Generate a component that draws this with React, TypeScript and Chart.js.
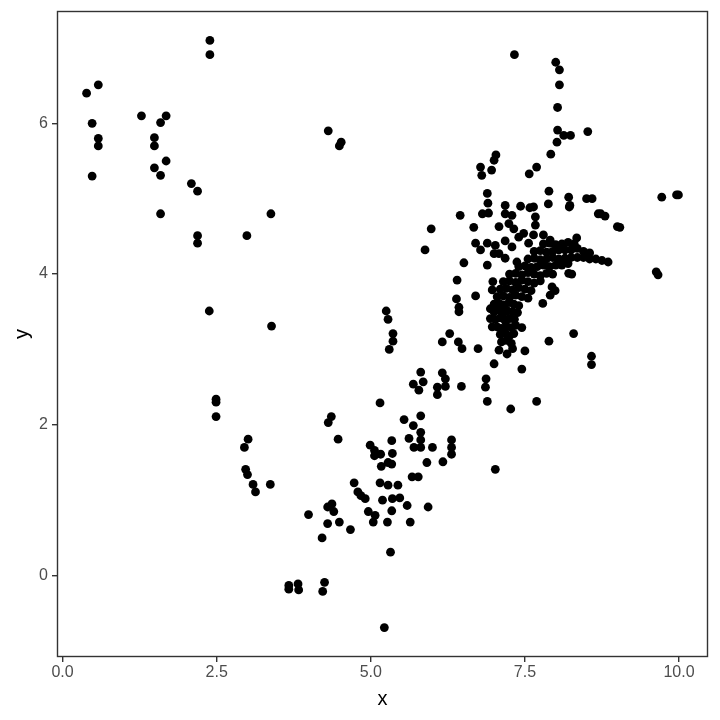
import { useEffect, useRef } from "react";
import { Chart, registerables } from "chart.js";

Chart.register(...registerables);

const xTickValues = [0, 2.5, 5, 7.5, 10];
const yTickValues = [0, 2, 4, 6];
const xTitle = "x";
const yTitle = "y";

const groupUpperLeft: [number, number][] = [
  [0.39, 6.4], [0.58, 6.51], [0.48, 6.0], [0.58, 5.8], [0.58, 5.7], [0.48, 5.3],
  [1.28, 6.1], [1.68, 6.1], [1.59, 6.01], [1.49, 5.81], [1.49, 5.7], [1.68, 5.5],
  [1.49, 5.41], [1.59, 5.31], [2.09, 5.2], [2.19, 5.1], [1.59, 4.8], [3.38, 4.8],
  [2.19, 4.51], [2.99, 4.51], [2.19, 4.41], [2.39, 7.1], [2.39, 6.91],
  [4.31, 5.9], [4.49, 5.7], [4.52, 5.75],
];

const groupMidLeft: [number, number][] = [
  [2.38, 3.51], [3.39, 3.31], [2.49, 2.34], [2.49, 2.3], [2.49, 2.11], [3.01, 1.81],
  [2.95, 1.7], [2.97, 1.41], [3.0, 1.34], [3.09, 1.21], [3.13, 1.11], [3.37, 1.21],
];

const groupLower: [number, number][] = [
  [5.25, 3.51], [5.28, 3.4], [5.36, 3.21], [5.36, 3.11], [5.3, 3.0],
  [4.36, 2.11], [4.31, 2.03], [4.47, 1.81], [5.15, 2.29],
  [5.69, 2.54], [5.85, 2.57], [5.78, 2.46], [6.08, 2.5], [6.21, 2.51], [6.08, 2.4], [6.47, 2.51],
  [5.54, 2.07], [5.81, 2.12], [5.69, 1.99], [5.81, 1.9], [5.62, 1.82], [5.81, 1.8],
  [5.7, 1.7], [5.81, 1.7], [6.0, 1.7], [6.31, 1.8], [6.31, 1.7], [6.31, 1.61],
  [5.91, 1.5], [6.17, 1.51], [5.67, 1.31], [5.77, 1.31],
  [4.99, 1.73], [5.06, 1.66], [5.06, 1.59], [5.16, 1.61], [5.34, 1.79], [5.35, 1.62],
  [5.28, 1.5], [5.17, 1.45], [5.34, 1.48],
  [4.73, 1.23], [4.79, 1.11], [4.84, 1.06], [4.91, 1.02], [5.15, 1.23], [5.28, 1.2],
  [5.44, 1.2], [5.19, 1.0], [5.35, 1.02], [5.47, 1.03], [5.34, 0.86], [5.59, 0.93],
  [5.93, 0.91], [4.96, 0.85], [5.07, 0.8], [5.04, 0.71], [5.27, 0.71], [5.64, 0.71], [5.32, 0.31],
  [4.3, 0.91], [4.37, 0.95], [4.4, 0.85], [3.99, 0.81], [4.3, 0.69], [4.49, 0.71],
  [4.67, 0.61], [4.21, 0.5],
  [3.67, -0.18], [3.67, -0.13], [3.82, -0.11], [3.83, -0.19], [4.25, -0.09], [4.22, -0.21],
  [5.22, -0.69],
];

const groupMid: [number, number][] = [
  [5.81, 2.7], [6.16, 2.69], [6.21, 2.61], [6.87, 2.61], [6.86, 2.5], [6.89, 2.31],
  [7.27, 2.21], [7.69, 2.31], [7.02, 1.41],
  [6.28, 3.21], [6.16, 3.1], [6.42, 3.1], [6.48, 3.01], [6.74, 3.01], [7.08, 2.99],
  [7.21, 2.94], [7.3, 3.01], [7.5, 2.98], [7.0, 2.81], [7.45, 2.74], [7.89, 3.11],
  [8.29, 3.21], [8.58, 2.91], [8.58, 2.8],
  [6.4, 3.92], [6.7, 3.71], [6.39, 3.67], [6.43, 3.56], [6.43, 3.5],
  [6.98, 3.9], [6.97, 3.79], [6.94, 3.54], [6.94, 3.41], [6.97, 3.3], [7.94, 3.83],
  [7.99, 3.78], [7.91, 3.72], [8.21, 4.01], [8.26, 4.0], [7.79, 3.61],
];

const groupUpper: [number, number][] = [
  [5.98, 4.6], [5.88, 4.32], [6.45, 4.78], [6.67, 4.62], [6.7, 4.41], [6.51, 4.15], [6.78, 4.32],
  [6.9, 4.94], [7.18, 4.91], [7.43, 4.9], [7.64, 4.89], [7.88, 4.93], [8.23, 4.91], [8.69, 4.8],
  [6.81, 4.8], [6.91, 4.81], [7.18, 4.8], [7.29, 4.78], [7.67, 4.76], [7.08, 4.63],
  [7.24, 4.67], [7.32, 4.6], [7.67, 4.65],
  [6.89, 4.41], [7.02, 4.38], [7.18, 4.44], [7.29, 4.36], [7.4, 4.49], [7.48, 4.54],
  [7.64, 4.52], [7.8, 4.52], [7.56, 4.41],
  [7.0, 4.27], [7.08, 4.27], [6.89, 4.12], [7.18, 4.21], [7.37, 4.16],
  [6.78, 5.42], [6.96, 5.38], [6.8, 5.31], [7.0, 5.51], [7.03, 5.58], [7.69, 5.42],
  [7.57, 5.33], [6.89, 5.07], [7.58, 4.88],
  [7.89, 5.1], [8.21, 5.02], [8.22, 4.89], [8.5, 5.0], [8.59, 5.0], [8.73, 4.8],
  [8.8, 4.77], [9.0, 4.63], [9.04, 4.62], [8.34, 4.48], [7.91, 4.45],
];

const groupTopRight: [number, number][] = [
  [8.0, 6.81], [8.06, 6.71], [8.06, 6.51], [8.03, 6.21], [8.03, 5.91], [8.13, 5.84],
  [8.24, 5.84], [8.02, 5.75], [8.52, 5.89], [7.92, 5.59], [7.33, 6.91],
  [9.72, 5.02], [9.96, 5.05], [9.99, 5.05], [9.63, 4.03], [9.66, 3.99],
];

const groupCore: [number, number][] = [
  [7.12, 3.1], [7.2, 3.12], [7.28, 3.08],
  [7.1, 3.2], [7.18, 3.22], [7.25, 3.18], [7.32, 3.21],
  [7.05, 3.3], [7.12, 3.28], [7.2, 3.31], [7.28, 3.29], [7.35, 3.32], [7.45, 3.29],
  [7.02, 3.4], [7.1, 3.42], [7.18, 3.38], [7.25, 3.41], [7.33, 3.4],
  [7.0, 3.5], [7.08, 3.52], [7.15, 3.48], [7.22, 3.51], [7.3, 3.5], [7.38, 3.49],
  [7.0, 3.6], [7.08, 3.61], [7.16, 3.59], [7.24, 3.62], [7.32, 3.6], [7.4, 3.58],
  [7.05, 3.7], [7.15, 3.71], [7.25, 3.69], [7.35, 3.72], [7.45, 3.7], [7.55, 3.68],
  [7.1, 3.8], [7.2, 3.81], [7.3, 3.79], [7.4, 3.82], [7.5, 3.8], [7.6, 3.78],
  [7.15, 3.9], [7.25, 3.91], [7.35, 3.89], [7.45, 3.92], [7.55, 3.9], [7.65, 3.88], [7.75, 3.91],
  [7.25, 4.0], [7.35, 4.01], [7.45, 3.99], [7.55, 4.02], [7.65, 4.0], [7.75, 3.98], [7.85, 4.01], [7.95, 4.0],
  [7.4, 4.1], [7.5, 4.11], [7.6, 4.09], [7.7, 4.1], [7.8, 4.12], [7.9, 4.1], [8.0, 4.12], [8.1, 4.12], [8.2, 4.14],
  [7.55, 4.2], [7.65, 4.21], [7.75, 4.19], [7.85, 4.2], [7.95, 4.22], [8.05, 4.2], [8.15, 4.21],
  [8.25, 4.22], [8.35, 4.22], [8.45, 4.22], [8.55, 4.2], [8.65, 4.2], [8.75, 4.18], [8.85, 4.16],
  [7.65, 4.3], [7.75, 4.31], [7.85, 4.29], [7.95, 4.3], [8.05, 4.32], [8.15, 4.32], [8.25, 4.32],
  [8.35, 4.34], [8.45, 4.3], [8.55, 4.28],
  [7.8, 4.4], [7.9, 4.41], [8.0, 4.39], [8.1, 4.4], [8.2, 4.42], [8.3, 4.4],
];

const FONT = "'Liberation Sans', Arial, Helvetica, sans-serif";

export default function App() {
  const ref = useRef<HTMLCanvasElement | null>(null);

  useEffect(() => {
    document.body.style.margin = "0";
    const canvas = ref.current;
    if (!canvas) return;
    const allPoints = [
      ...groupUpperLeft,
      ...groupMidLeft,
      ...groupLower,
      ...groupMid,
      ...groupUpper,
      ...groupTopRight,
      ...groupCore,
    ].map(([x, y]) => ({ x, y }));

    const panelBorder = {
      id: "panelBorder",
      afterDatasetsDraw(chart: any) {
        const { ctx, chartArea } = chart;
        const { left, top, right, bottom } = chartArea;
        ctx.save();
        ctx.strokeStyle = "#333333";
        ctx.lineWidth = 1.4;
        ctx.strokeRect(left + 0.5, top + 0.5, right - left - 1, bottom - top - 1);
        ctx.restore();
      },
    };

    const chart = new Chart(canvas, {
      type: "scatter",
      data: {
        datasets: [
          {
            data: allPoints,
            pointRadius: 4.4,
            pointHoverRadius: 4.4,
            pointBackgroundColor: "#000000",
            pointBorderWidth: 0,
            pointBorderColor: "rgba(0,0,0,0)",
          },
        ],
      },
      options: {
        animation: false,
        responsive: false,
        devicePixelRatio: 1,
        layout: { padding: { top: 11, right: 12, left: 0, bottom: 0 } },
        plugins: { legend: { display: false }, tooltip: { enabled: false } },
        scales: {
          x: {
            type: "linear",
            bounds: "data",
            min: -0.09,
            max: 10.47,
            afterBuildTicks: (s: any) => {
              s.ticks = xTickValues.map((v) => ({ value: v }));
            },
            afterFit: (s: any) => {
              s.height = 63;
              s.paddingLeft = 0;
              s.paddingRight = 0;
            },
            ticks: {
              callback: (v: any) => Number(v).toFixed(1),
              color: "#4D4D4D",
              font: { family: FONT, size: 16 },
              padding: 1,
              maxRotation: 0,
              autoSkip: false,
            },
            grid: {
              display: true,
              drawOnChartArea: false,
              drawTicks: true,
              tickLength: 5,
              lineWidth: 1.4,
              color: "#333333",
            },
            border: { display: false },
            title: {
              display: true,
              text: xTitle,
              color: "#000000",
              font: { family: FONT, size: 20 },
              padding: { top: 0, bottom: 9 },
            },
          },
          y: {
            type: "linear",
            bounds: "data",
            min: -1.08,
            max: 7.49,
            afterBuildTicks: (s: any) => {
              s.ticks = yTickValues.map((v) => ({ value: v }));
            },
            afterFit: (s: any) => {
              s.width = 57;
              s.paddingTop = 0;
              s.paddingBottom = 0;
            },
            ticks: {
              callback: (v: any) => String(v),
              color: "#4D4D4D",
              font: { family: FONT, size: 16 },
              padding: 4,
              autoSkip: false,
            },
            grid: {
              display: true,
              drawOnChartArea: false,
              drawTicks: true,
              tickLength: 5,
              lineWidth: 1.4,
              color: "#333333",
            },
            border: { display: false },
            title: {
              display: true,
              text: yTitle,
              color: "#000000",
              font: { family: FONT, size: 20 },
              padding: { top: 10, bottom: 0 },
            },
          },
        },
      },
      plugins: [panelBorder],
    });

    return () => chart.destroy();
  }, []);

  return (
    <div style={{ position: "absolute", left: 0, top: 0, width: 720, height: 720 }}>
      <canvas ref={ref} width={720} height={720} style={{ display: "block" }} />
    </div>
  );
}
